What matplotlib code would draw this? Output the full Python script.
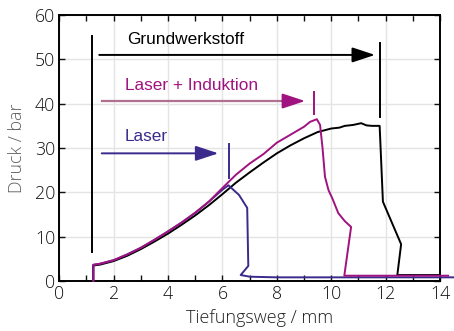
import matplotlib
matplotlib.use("Agg")
import matplotlib.pyplot as plt
from matplotlib.ticker import MultipleLocator

# Burst-test curves: pressure vs. bulge depth
x_grund = [1.25, 1.25, 1.5, 2.0, 2.5, 3.0, 3.5, 4.0, 4.5, 5.0, 5.5, 6.0, 6.5, 7.0,
           7.5, 8.0, 8.5, 9.0, 9.5, 10.0, 10.3, 10.5, 10.8, 11.1, 11.3, 11.5, 11.78,
           11.9, 12.57, 12.43, 14.0]
y_grund = [0.0, 3.5, 3.7, 4.5, 5.7, 7.2, 8.9, 10.7, 12.7, 14.8, 17.1, 19.6, 22.2, 24.5,
           26.7, 28.8, 30.6, 32.2, 33.6, 34.4, 34.6, 35.0, 35.2, 35.6, 35.1, 35.0, 35.0,
           17.9, 8.3, 1.35, 1.35]

x_li = [1.26, 1.26, 1.5, 2.0, 2.5, 3.0, 3.5, 4.0, 4.5, 5.0, 5.5, 6.0, 6.5, 7.0, 7.5,
        8.0, 8.5, 9.0, 9.22, 9.47, 9.59, 9.68, 9.77, 9.9, 10.05, 10.26, 10.5, 10.73,
        10.48, 14.3]
y_li = [0.0, 3.7, 3.9, 4.7, 6.0, 7.5, 9.3, 11.2, 13.2, 15.4, 17.9, 21.0, 24.0, 26.5,
        28.6, 31.2, 33.0, 34.8, 35.9, 36.5, 35.2, 30.0, 23.5, 20.5, 18.5, 15.3, 13.5,
        12.2, 1.2, 1.2]

x_laser = [1.24, 1.24, 1.5, 2.0, 2.5, 3.0, 3.5, 4.0, 4.5, 5.0, 5.5, 6.0, 6.22, 6.61,
           6.91, 6.95, 6.67, 7.01, 8.0, 14.5]
y_laser = [0.0, 3.6, 3.9, 4.7, 6.0, 7.5, 9.3, 11.2, 13.2, 15.4, 17.9, 20.6, 21.6, 19.4,
           16.5, 3.4, 1.35, 0.97, 0.83, 0.83]

labels = ["Grundwerkstoff", "Laser + Induktion", "Laser"]
x_ticks = [0, 2, 4, 6, 8, 10, 12, 14]
y_ticks = [0, 10, 20, 30, 40, 50, 60]

BLACK = "#000000"
MAGENTA = "#a0127f"
ROSE = "#b0708f"
BLUE = "#3b2a8c"

fig = plt.figure(figsize=(4.54, 3.31), dpi=100)
ax = fig.add_axes([0.1306, 0.151, 0.8386, 0.8036])

ax.plot(x_grund, y_grund, color=BLACK, lw=1.4, zorder=3)
ax.plot(x_laser, y_laser, color=BLUE, lw=1.4, zorder=4, clip_on=False)
ax.plot(x_li, y_li, color=MAGENTA, lw=1.4, zorder=5, clip_on=False)

# start marker
ax.plot([1.19, 1.19], [6.6, 55.3], color=BLACK, lw=1.4, zorder=6)

# failure markers
ax.plot([11.80, 11.80], [37.1, 53.6], color=BLACK, lw=1.4, zorder=6)
ax.plot([9.38, 9.38], [37.6, 42.7], color=MAGENTA, lw=1.4, zorder=6)
ax.plot([6.24, 6.24], [23.2, 30.9], color=BLUE, lw=1.4, zorder=6)

hs = "-|>,head_length=1.0,head_width=0.33"
# Grundwerkstoff arrow
ax.annotate("", xy=(11.61, 51.0), xytext=(1.47, 51.0),
            arrowprops=dict(arrowstyle=hs, color=BLACK, lw=1.4, shrinkA=0, shrinkB=0,
                            mutation_scale=14), zorder=6)
# Laser + Induktion arrow (muted shaft, solid head)
ax.plot([1.56, 8.4], [40.6, 40.6], color=ROSE, lw=1.6, zorder=6)
ax.annotate("", xy=(9.04, 40.6), xytext=(8.2, 40.6),
            arrowprops=dict(arrowstyle=hs, color=MAGENTA, lw=1.4, shrinkA=0, shrinkB=0,
                            mutation_scale=14), zorder=6)
# Laser arrow
ax.annotate("", xy=(5.85, 28.8), xytext=(1.56, 28.8),
            arrowprops=dict(arrowstyle=hs, color=BLUE, lw=1.4, shrinkA=0, shrinkB=0,
                            mutation_scale=14), zorder=6)

tfont = dict(family="Liberation Sans", fontsize=12.4, va="center", ha="left")
ax.text(2.48, 54.4, labels[0], color=BLACK, **tfont)
ax.text(2.42, 44.0, labels[1], color=MAGENTA, **tfont)
ax.text(2.42, 32.6, labels[2], color=BLUE, **tfont)

ax.set_xlim(0, 14)
ax.set_ylim(0, 60)
ax.set_xticks(x_ticks)
ax.set_yticks(y_ticks)
ax.xaxis.set_minor_locator(MultipleLocator(1))
ax.grid(True, which="major", color="#e4e4e4", lw=1.0, zorder=0)
ax.set_axisbelow(True)

for s in ax.spines.values():
    s.set_linewidth(1.4)
ax.tick_params(which="both", direction="in", top=True, right=True, width=1.0,
               labelsize=12.8, colors="#111111", pad=3)
ax.tick_params(which="major", length=4)
ax.tick_params(which="minor", length=4)
for lab in ax.get_xticklabels() + ax.get_yticklabels():
    lab.set_family("Open Sans")
    lab.set_fontweight("light")

ax.set_xlabel("Tiefungsweg / mm", family="Open Sans", fontsize=13, color="#222222",
              fontweight="light")
ax.xaxis.set_label_coords(0.525, -0.105)
ax.set_ylabel("Druck / bar", family="Open Sans", fontsize=12.8, color="#606060",
              fontweight="light", labelpad=6)

fig.savefig("out.png", dpi=100)
